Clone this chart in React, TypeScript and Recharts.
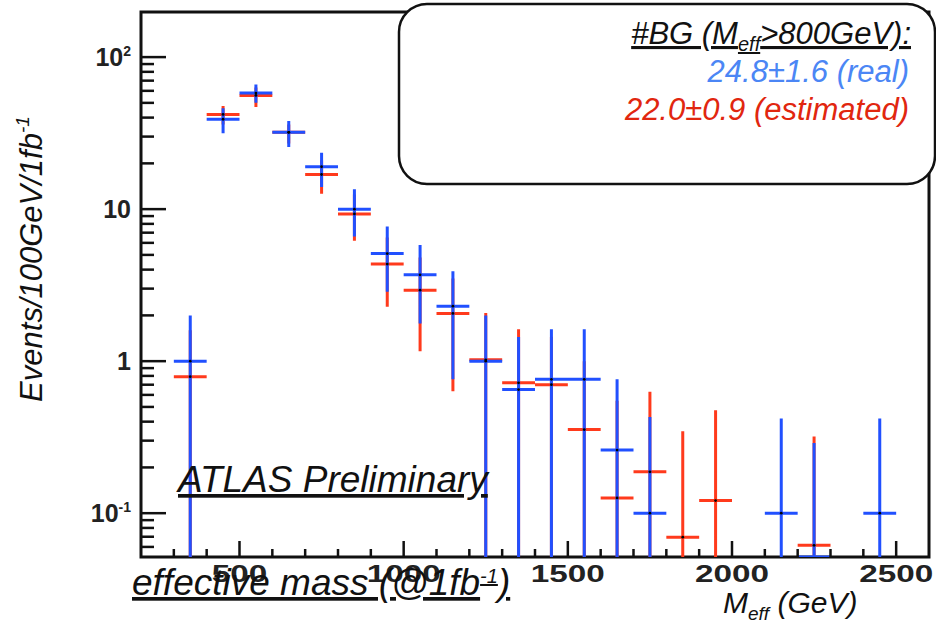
import { ComposedChart, Line, Scatter, XAxis, YAxis, ReferenceArea } from 'recharts';

// log axis range and bin width (GeV)
const YMIN = 0.0515;
const YMAX = 198;
const BIN = 100;

// real background (blue)
const realMass = [350, 450, 550, 650, 750, 850, 950, 1050, 1150, 1250, 1350, 1450, 1550, 1650, 1750, 2150, 2250, 2450];
const realCount = [1.0, 39, 58, 32, 19, 10, 5.1, 3.7, 2.3, 1.0, 0.65, 0.76, 0.76, 0.26, 0.1, 0.1, 0.02, 0.1];
const realUp = [2.0, 46, 66, 38, 23.5, 13.5, 7.7, 5.8, 3.9, 2.0, 1.44, 1.62, 1.62, 0.76, 0.43, 0.42, 0.29, 0.42];
const realDown = [0, 31.5, 50, 25.6, 14, 6.6, 2.86, 1.77, 0.76, 0, 0, 0, 0, 0, 0, 0, 0, 0];

// estimated background (red)
const estMass = [350, 450, 550, 650, 750, 850, 950, 1050, 1150, 1250, 1350, 1450, 1550, 1650, 1750, 1850, 1950, 2250];
const estCount = [0.79, 42, 56, 32, 16.9, 9.3, 4.35, 2.93, 2.06, 1.02, 0.72, 0.7, 0.355, 0.126, 0.187, 0.0695, 0.121, 0.0615];
const estUp = [1.6, 47.6, 63, 36, 21, 12.5, 6.5, 4.8, 3.5, 2.07, 1.62, 1.45, 1.0, 0.55, 0.63, 0.346, 0.476, 0.32];
const estDown = [0, 36, 47, 27, 12.6, 6.2, 2.28, 1.16, 0.635, 0, 0, 0, 0, 0, 0, 0, 0, 0];

const xTicks = [300, 400, 500, 600, 700, 800, 900, 1000, 1100, 1200, 1300, 1400, 1500, 1600, 1700, 1800, 1900, 2000, 2100, 2200, 2300, 2400, 2500];
const xLabels = [500, 1000, 1500, 2000, 2500];

const yMajor = [0.1, 1, 10, 100];
const yBase = ['10', '1', '10', '10'];
const yExp = ['-1', '', '', '2'];
const yMinor = [0.06, 0.07, 0.08, 0.09, 0.2, 0.3, 0.4, 0.5, 0.6, 0.7, 0.8, 0.9, 2, 3, 4, 5, 6, 7, 8, 9, 20, 30, 40, 50, 60, 70, 80, 90];

const BLUE = '#2150ff';
const RED = '#ff3a1c';
const FONT = '"Liberation Sans", Arial, sans-serif';

// horizontal bin bar + vertical error bar per point, separated by null gaps
function crosses(mass: number[], count: number[], up: number[], down: number[]) {
  const clip = (v: number) => Math.max(v, YMIN);
  const pts: { m: number; v: number | null }[] = [];
  mass.forEach((m, i) => {
    pts.push({ m: m - BIN / 2, v: clip(count[i]) });
    pts.push({ m: m + BIN / 2, v: clip(count[i]) });
    pts.push({ m: m + BIN / 2, v: null });
    pts.push({ m, v: clip(down[i]) });
    pts.push({ m, v: clip(up[i]) });
    pts.push({ m, v: null });
  });
  return pts;
}

function centres(mass: number[], count: number[]) {
  return mass.map((m, i) => ({ m, v: count[i] })).filter((d) => d.v >= YMIN);
}

const XTick = (props: any) => {
  const { x, y, payload } = props;
  const major = xLabels.includes(payload.value);
  const s = String(payload.value);
  return (
    <g>
      <line x1={x} x2={x} y1={y} y2={y - (major ? 16 : 8)} stroke="#111" strokeWidth={2.5} />
      {major && (
        <text x={x} y={y + 25} textAnchor="middle" fontFamily={FONT} fontWeight="bold" fontSize={24} fill="#222"
          textLength={s.length * 18.5} lengthAdjust="spacingAndGlyphs">
          {s}
        </text>
      )}
    </g>
  );
};

const YTick = (props: any) => {
  const { x, y, payload } = props;
  const idx = yMajor.indexOf(payload.value);
  const major = idx >= 0;
  return (
    <g>
      <line x1={x} x2={x + (major ? 25 : 13)} y1={y} y2={y} stroke="#111" strokeWidth={2.5} />
      {major && (
        <text x={x - 10} y={y + 9} textAnchor="end" fontFamily={FONT} fontWeight="bold" fontSize={25} fill="#222">
          {yBase[idx]}
          {yExp[idx] && (
            <tspan fontSize={14} dy={-10}>{yExp[idx]}</tspan>
          )}
        </text>
      )}
    </g>
  );
};

const dot = (props: any) => <circle cx={props.cx} cy={props.cy} r={1.4} fill="#000" />;

export default function App() {
  const yTicks = [...yMajor, ...yMinor].sort((a, b) => a - b);
  return (
    <div style={{ position: 'absolute', left: 0, top: 0, width: 936, height: 623, background: '#fff' }}>
      <ComposedChart width={936} height={623} margin={{ top: 12, right: 7, bottom: 36, left: 81 }}>
        <XAxis type="number" dataKey="m" domain={[200, 2600]} ticks={xTicks} interval={0} allowDataOverflow
          tickSize={0} tickMargin={0} tick={<XTick />} axisLine={false} tickLine={false} height={30} />
        <YAxis type="number" scale="log" domain={[YMIN, YMAX]} ticks={yTicks} interval={0} allowDataOverflow
          tickSize={0} tickMargin={0} tick={<YTick />} axisLine={false} tickLine={false} width={60} />
        <ReferenceArea x1={200} x2={2600} y1={YMIN} y2={YMAX} ifOverflow="visible" fill="none" fillOpacity={0}
          stroke="#111" strokeWidth={3} />
        <Line data={crosses(estMass, estCount, estUp, estDown)} dataKey="v" stroke={RED} strokeWidth={3}
          dot={false} activeDot={false} connectNulls={false} isAnimationActive={false} strokeLinecap="butt" />
        <Line data={crosses(realMass, realCount, realUp, realDown)} dataKey="v" stroke={BLUE} strokeWidth={3}
          dot={false} activeDot={false} connectNulls={false} isAnimationActive={false} strokeLinecap="butt" />
        <Scatter data={centres(estMass, estCount)} dataKey="v" shape={dot} isAnimationActive={false} />
        <Scatter data={centres(realMass, realCount)} dataKey="v" shape={dot} isAnimationActive={false} />
      </ComposedChart>

      <svg width={936} height={623} style={{ position: 'absolute', left: 0, top: 0, pointerEvents: 'none' }}
        fontFamily={FONT} fontStyle="italic">
        <text transform="translate(42,259) rotate(-90)" textAnchor="middle" fontSize={31} fill="#111">
          Events/100GeV/1fb<tspan fontSize={19} dy={-13}>-1</tspan>
        </text>

        <text x={178} y={492} fontSize={37} fill="#111" style={{ textDecoration: 'underline' }}>ATLAS Preliminary</text>

        <text x={132} y={595} fontSize={37} fill="#111" style={{ textDecoration: 'underline' }}>
          effective mass (@1fb<tspan fontSize={20} dy={-12}>-1</tspan><tspan dy={12}>)</tspan>
        </text>

        <text x={723} y={613} fontSize={30} fill="#111">
          M<tspan fontSize={19} dy={7}>eff</tspan><tspan dy={-7}> (GeV)</tspan>
        </text>

        <rect x={399} y={4} width={536} height={180} rx={28} ry={28} fill="#fff" stroke="#111" strokeWidth={2.5} />
        <text x={911} y={44} textAnchor="end" fontSize={31} fill="#111" style={{ textDecoration: 'underline' }}>
          #BG (M<tspan fontSize={20} dy={7}>eff</tspan><tspan dy={-7}>&gt;800GeV):</tspan>
        </text>
        <text x={909} y={82} textAnchor="end" fontSize={31} fill="#4b86f5">24.8±1.6 (real)</text>
        <text x={909} y={120} textAnchor="end" fontSize={31} fill="#e1260f">22.0±0.9 (estimated)</text>
      </svg>
    </div>
  );
}
